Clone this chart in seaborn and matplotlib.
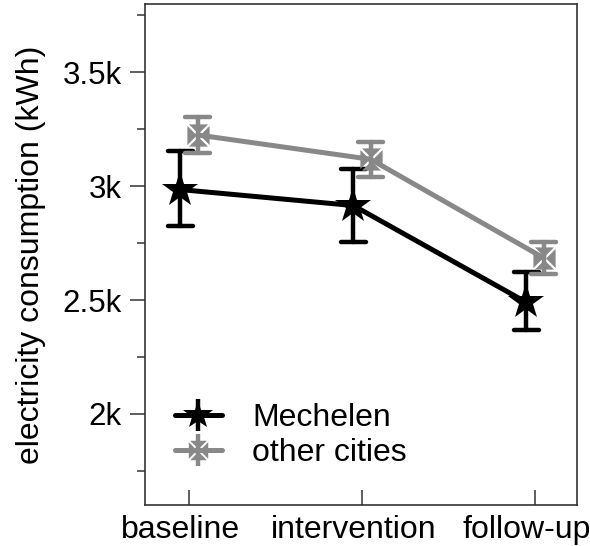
import numpy as np
import pandas as pd
import matplotlib
matplotlib.use("Agg")
import matplotlib.pyplot as plt
import matplotlib.transforms as mtransforms
import seaborn as sns
from matplotlib.path import Path
from matplotlib.ticker import FixedLocator, FuncFormatter
from matplotlib.legend_handler import HandlerErrorbar

# ---- data (kWh) ----
phases = ["baseline", "intervention", "follow-up"]
groups = ["Mechelen", "other cities"]
mech_mean = [2985, 2915, 2490]
mech_lo = [2825, 2755, 2370]
mech_hi = [3155, 3075, 2625]
oth_mean = [3225, 3118, 2685]
oth_lo = [3145, 3040, 2615]
oth_hi = [3305, 3195, 2755]
y_major = [2000, 2500, 3000, 3500]
y_minor = [1750, 2250, 2750, 3250, 3750]

colors = ["#000000", "#888888"]

sns.set_style("white")
plt.rcParams["font.family"] = ["Liberation Sans", "DejaVu Sans"]
plt.rcParams["text.color"] = "black"
plt.rcParams["axes.labelcolor"] = "black"

rows = []
for g, mean, lo, hi in zip(groups, [mech_mean, oth_mean], [mech_lo, oth_lo], [mech_hi, oth_hi]):
    for p, m, l, h in zip(phases, mean, lo, hi):
        for v in (l, m, h):
            rows.append({"phase": p, "group": g, "kwh": v})
df = pd.DataFrame(rows)


def cross_box_marker(shrink=0.80):
    corners = [(-1, -1), (1, -1), (1, 1), (-1, 1)]
    verts, codes = [], []
    for i in range(4):
        a = np.array(corners[i], float)
        b = np.array(corners[(i + 1) % 4], float)
        c = np.array([0.0, 0.0])
        cen = (a + b + c) / 3
        tri = [cen + (p - cen) * shrink for p in (a, b, c)]
        verts += [tuple(t) for t in tri] + [(0, 0)]
        codes += [Path.MOVETO, Path.LINETO, Path.LINETO, Path.CLOSEPOLY]
    return Path(verts, codes)


box_marker = cross_box_marker()

fig = plt.figure(figsize=(5.9, 5.46), dpi=100)
ax = fig.add_axes([0.2458, 0.0751, 0.978 - 0.2458, 0.9927 - 0.0751])

sns.pointplot(
    data=df, x="phase", y="kwh", hue="group", order=phases, hue_order=groups,
    palette=colors, estimator="median", errorbar=lambda v: (v.min(), v.max()),
    dodge=0.1, markers=["*", box_marker], linestyles="-", capsize=0.145,
    err_kws={"linewidth": 3.2}, markersize=20, linewidth=3.6, legend=False, ax=ax,
)

for ln in ax.lines:
    mk = ln.get_marker()
    if isinstance(mk, Path):
        ln.set_markersize(16)
        ln.set_markeredgewidth(0)
    elif mk == "*":
        ln.set_markersize(27)
        ln.set_markeredgewidth(0)

# legend proxies (error-bar glyphs)
handles = []
for g, c, mk, ms, cs in zip(groups, colors, ["*", box_marker], [22, 14], [9, 8]):
    h = ax.errorbar([np.nan], [np.nan], yerr=[1], color=c, marker=mk, markersize=ms,
                    markeredgewidth=0, linewidth=3.6, elinewidth=3.2, capsize=cs,
                    capthick=3.2, label=g)
    handles.append(h)
ax.legend(handles=handles, labels=groups, loc="lower left", bbox_to_anchor=(0.07, 0.074),
          frameon=False, fontsize=23, handlelength=1.45, handletextpad=0.95,
          labelspacing=0.16, borderpad=0, borderaxespad=0,
          handler_map={type(handles[0]): HandlerErrorbar(xerr_size=0.5, yerr_size=0.5)})

ax.set_xlim(-0.254, 2.243)
ax.set_ylim(1600, 3800)
ax.yaxis.set_major_locator(FixedLocator(y_major))
ax.yaxis.set_minor_locator(FixedLocator(y_minor))
ax.yaxis.set_major_formatter(FuncFormatter(lambda v, p: f"{v/1000:g}k"))

ax.set_xlabel("")
ax.set_ylabel("electricity consumption (kWh)", fontsize=23, labelpad=12)

for s in ax.spines.values():
    s.set_visible(True)
    s.set_color("#333333")
    s.set_linewidth(1.2)

ax.tick_params(axis="y", which="major", direction="out", length=10.8, width=1.1,
               color="#333333", labelcolor="black", labelsize=22.5, pad=6, left=True)
ax.tick_params(axis="y", which="minor", direction="out", length=5.8, width=1.1,
               color="#333333", left=True)
ax.tick_params(axis="x", which="major", direction="in", length=11, width=1.1,
               color="#333333", labelcolor="black", labelsize=23, pad=7.5, bottom=True)

shift = mtransforms.ScaledTranslation(-8.5 / 100, 0, fig.dpi_scale_trans)
for tick in ax.xaxis.get_major_ticks():
    tick.label1.set_transform(tick.label1.get_transform() + shift)

fig.savefig("out.png", dpi=100)
